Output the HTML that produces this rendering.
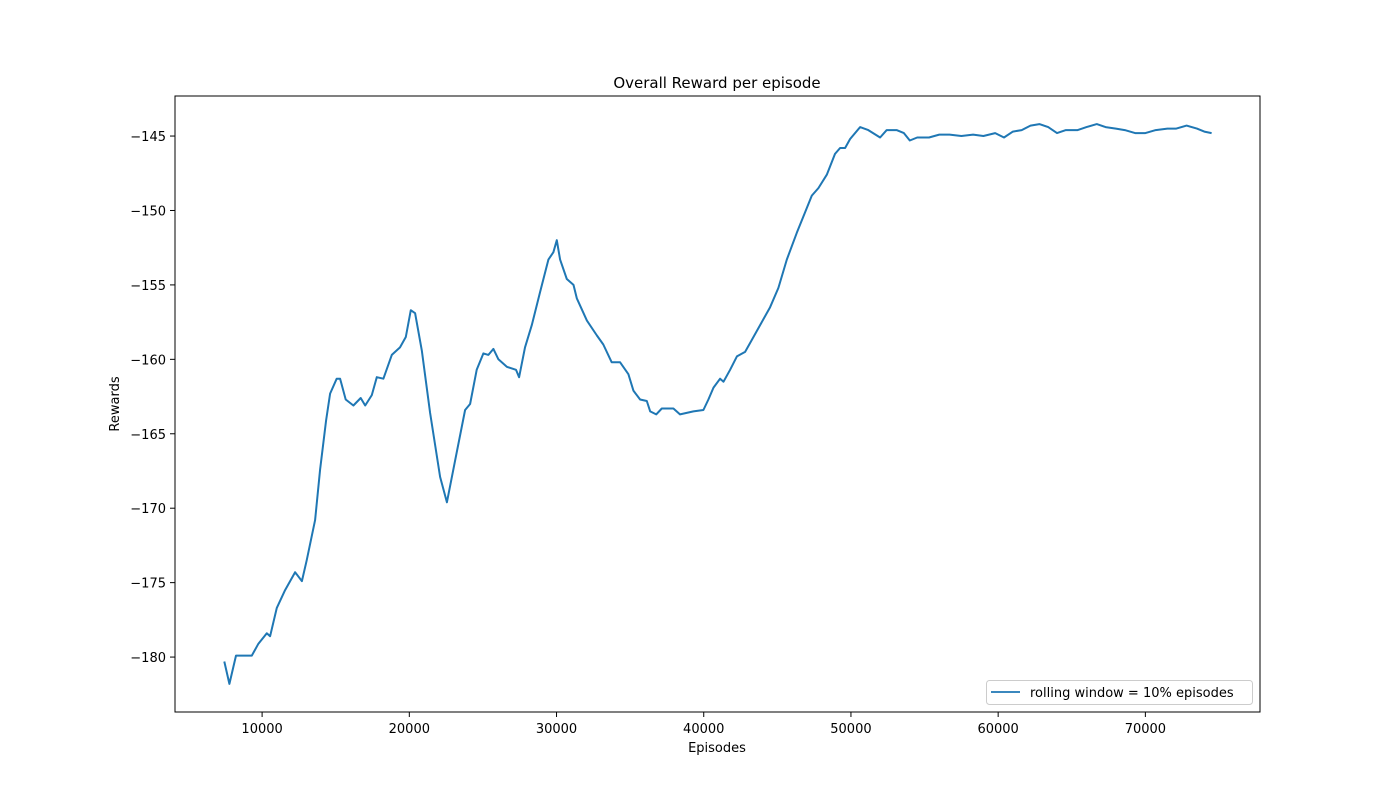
<!DOCTYPE html>
<html><head><meta charset="utf-8"><style>
body{margin:0;background:#fff;}
svg{display:block;font-family:"DejaVu Sans","Liberation Sans",sans-serif;}
</style></head><body>
<svg id="chart" width="1400" height="800" xmlns="http://www.w3.org/2000/svg">
<rect width="1400" height="800" fill="#fff"/>
<text x="717" y="88" text-anchor="middle" font-size="15">Overall Reward per episode</text>
<text x="717" y="752" text-anchor="middle" font-size="13">Episodes</text>
<text transform="translate(119,404) rotate(-90)" text-anchor="middle" font-size="13">Rewards</text>
<g id="xticks"></g>
<g id="yticks"></g>
<path id="line" fill="none" stroke="#1f77b4" stroke-width="2" stroke-linejoin="round"/>
<rect x="175" y="96" width="1085" height="616" fill="none" stroke="#000" stroke-width="1"/>
<g>
<rect x="986.5" y="680.5" width="266" height="24" rx="3" fill="#fff" fill-opacity="0.8" stroke="#ccc"/>
<line x1="991" y1="692" x2="1020" y2="692" stroke="#1f77b4" stroke-width="1.8"/>
<text x="1030" y="697" font-size="13">rolling window = 10% episodes</text>
</g>
</svg>
<script>
const episodes=[7430,7780,8230,9300,9750,10320,10540,11000,11560,12240,12700,13030,13600,13940,14350,14620,15070,15300,15680,16200,16700,17000,17450,17790,18240,18810,19370,19760,20100,20390,20850,21410,22090,22550,23110,23790,24130,24580,25030,25370,25710,26050,26620,27250,27460,27860,28320,28880,29450,29790,30020,30240,30700,31150,31380,32060,32740,33180,33750,34320,34880,35220,35680,36130,36360,36770,37150,37940,38390,39300,39980,40320,40660,41110,41340,41790,42250,42810,43150,43830,44510,45070,45640,46320,46890,47340,47790,48360,48920,49260,49600,49940,50620,51180,51980,52430,53100,53600,54000,54500,55300,56000,56700,57500,58300,59000,59800,60400,61000,61600,62200,62800,63400,64000,64600,65400,66000,66700,67300,68000,68600,69300,70000,70700,71500,72100,72800,73500,74000,74500];
const rewards=[-180.3,-181.8,-179.9,-179.9,-179.1,-178.4,-178.6,-176.7,-175.5,-174.3,-174.9,-173.5,-170.8,-167.4,-164.1,-162.3,-161.3,-161.3,-162.7,-163.1,-162.6,-163.1,-162.4,-161.2,-161.3,-159.7,-159.2,-158.5,-156.7,-156.9,-159.4,-163.6,-167.9,-169.6,-166.8,-163.4,-163.0,-160.7,-159.6,-159.7,-159.3,-160.0,-160.5,-160.7,-161.2,-159.2,-157.7,-155.5,-153.3,-152.8,-152.0,-153.3,-154.6,-155.0,-155.9,-157.4,-158.4,-159.0,-160.2,-160.2,-161.0,-162.1,-162.7,-162.8,-163.5,-163.7,-163.3,-163.3,-163.7,-163.5,-163.4,-162.7,-161.9,-161.3,-161.5,-160.7,-159.8,-159.5,-158.9,-157.7,-156.5,-155.2,-153.3,-151.5,-150.1,-149.0,-148.5,-147.6,-146.2,-145.8,-145.8,-145.2,-144.4,-144.6,-145.1,-144.6,-144.6,-144.8,-145.3,-145.1,-145.1,-144.9,-144.9,-145.0,-144.9,-145.0,-144.8,-145.1,-144.7,-144.6,-144.3,-144.2,-144.4,-144.8,-144.6,-144.6,-144.4,-144.2,-144.4,-144.5,-144.6,-144.8,-144.8,-144.6,-144.5,-144.5,-144.3,-144.5,-144.7,-144.8];
const xTicks=[10000,20000,30000,40000,50000,60000,70000];
const yTicks=[-145,-150,-155,-160,-165,-170,-175,-180];
const X0=175,X1=1260,Y0=96,Y1=712;
const xMin=4083,xMax=77787,yMin=-183.69,yMax=-142.31;
const sx=v=>X0+(v-xMin)/(xMax-xMin)*(X1-X0);
const sy=v=>Y1-(v-yMin)/(yMax-yMin)*(Y1-Y0);
const NS="http://www.w3.org/2000/svg";
const xg=document.getElementById('xticks'),yg=document.getElementById('yticks');
xTicks.forEach(t=>{
 const l=document.createElementNS(NS,'line');
 
 
 l.setAttribute('x1',sx(t));l.setAttribute('x2',sx(t));l.setAttribute('y1',Y1);l.setAttribute('y2',Y1+5);l.setAttribute('stroke','#000');
 xg.appendChild(l);
 const tx=document.createElementNS(NS,'text');
 
 
 tx.setAttribute('x',sx(t));tx.setAttribute('y',Y1+21);tx.setAttribute('text-anchor','middle');tx.setAttribute('font-size','13');
 tx.textContent=t;xg.appendChild(tx);
});
yTicks.forEach(t=>{
 const l=document.createElementNS(NS,'line');
 
 
 l.setAttribute('x1',X0-5);l.setAttribute('x2',X0);l.setAttribute('y1',sy(t));l.setAttribute('y2',sy(t));l.setAttribute('stroke','#000');
 yg.appendChild(l);
 const tx=document.createElementNS(NS,'text');
 
 
 tx.setAttribute('x',X0-9);tx.setAttribute('y',sy(t)+5);tx.setAttribute('text-anchor','end');tx.setAttribute('font-size','13');
 tx.textContent='\u2212'+Math.abs(t);yg.appendChild(tx);
});
document.getElementById('line').setAttribute('d',episodes.map((e,i)=>(i?'L':'M')+sx(e).toFixed(1)+','+sy(rewards[i]).toFixed(1)).join(''));
</script>
</body></html>
